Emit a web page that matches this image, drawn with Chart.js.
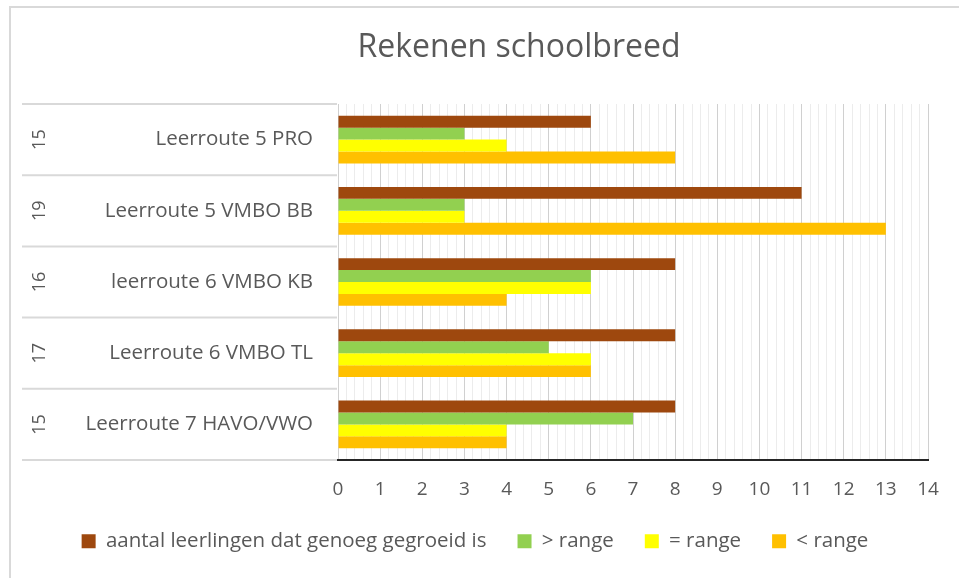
<!DOCTYPE html>
<html lang="nl">
<head>
  <meta charset="UTF-8" />
  <title>Rekenen schoolbreed</title>
  <script src="https://cdn.jsdelivr.net/npm/chart.js"></script>
  <style>
    html, body { margin: 0; padding: 0; background: #fff; }
    #wrap { width: 959px; height: 578px; position: relative; }
  </style>
</head>
<body>
  <div id="wrap"><canvas id="grafiek"></canvas></div>

  <script>
    // data
    const leerroutes = ['Leerroute 5 PRO', 'Leerroute 5 VMBO BB', 'leerroute 6 VMBO KB', 'Leerroute 6 VMBO TL', 'Leerroute 7 HAVO/VWO'];
    const aantalLeerlingen = ['15', '19', '16', '17', '15'];
    const genoegGegroeid = [6, 11, 8, 8, 8];
    const bovenRange = [3, 3, 6, 5, 7];
    const inRange = [4, 3, 6, 6, 4];
    const onderRange = [8, 13, 4, 6, 4];
    const xMax = 14;

    const grijs = '#595959';
    const lijn = '#d9d9d9';
    const fontNaam = '"Open Sans", "Liberation Sans", sans-serif';

    // kader, titel, kolom met aantallen en scheidingslijnen
    const extraTekst = {
      id: 'extraTekst',
      beforeDraw(chart) {
        const ctx = chart.ctx;
        ctx.save();
        ctx.strokeStyle = lijn;
        ctx.lineWidth = 2;
        ctx.strokeRect(10, 7, 980, 600);
        ctx.restore();
      },
      afterDraw(chart) {
        const ctx = chart.ctx;
        const y = chart.scales.y;
        const area = chart.chartArea;
        ctx.save();
        ctx.fillStyle = grijs;
        ctx.font = '32px ' + fontNaam;
        ctx.textAlign = 'center';
        ctx.textBaseline = 'middle';
        ctx.fillText('Rekenen schoolbreed', 519, 48);

        // scheidingslijnen tussen de categorieën
        ctx.strokeStyle = lijn;
        ctx.lineWidth = 2;
        const n = leerroutes.length;
        const grenzen = [y.top];
        for (let i = 0; i < n - 1; i++) {
          grenzen.push((y.getPixelForTick(i) + y.getPixelForTick(i + 1)) / 2);
        }
        grenzen.push(y.bottom);
        grenzen.forEach(g => {
          ctx.beginPath();
          ctx.moveTo(22, g);
          ctx.lineTo(area.left - 1, g);
          ctx.stroke();
        });

        // aantallen gedraaid
        ctx.font = '18px ' + fontNaam;
        aantalLeerlingen.forEach((t, i) => {
          ctx.save();
          ctx.translate(40, y.getPixelForTick(i));
          ctx.rotate(-Math.PI / 2);
          ctx.fillText(t, 0, 0);
          ctx.restore();
        });
        ctx.restore();
      }
    };

    const isHeel = v => Math.abs(v - Math.round(v)) < 1e-6;

    new Chart(document.getElementById('grafiek'), {
      type: 'bar',
      data: {
        labels: leerroutes,
        datasets: [
          { label: 'aantal leerlingen dat genoeg gegroeid is', data: genoegGegroeid, backgroundColor: '#9e480e' },
          { label: '> range', data: bovenRange, backgroundColor: '#92d050' },
          { label: '= range', data: inRange, backgroundColor: '#ffff00' },
          { label: '< range', data: onderRange, backgroundColor: '#ffc000' }
        ]
      },
      options: {
        indexAxis: 'y',
        responsive: true,
        maintainAspectRatio: false,
        animation: false,
        datasets: {
          bar: { categoryPercentage: 0.67, barPercentage: 1.0 }
        },
        layout: { padding: { top: 104, left: 22, right: 31, bottom: 16.5 } },
        scales: {
          x: {
            min: 0,
            max: xMax,
            afterFit(scale) { scale.height = 40; },
            ticks: {
              stepSize: 0.2,
              autoSkip: false,
              maxRotation: 0,
              padding: 18,
              color: grijs,
              font: { family: fontNaam, size: 19 },
              callback: v => isHeel(v) ? String(Math.round(v)) : ''
            },
            grid: {
              drawTicks: false,
              color: c => isHeel(c.tick.value) ? '#d0d0d0' : '#ececec',
              lineWidth: 1
            },
            border: { display: true, color: '#262626', width: 2 }
          },
          y: {
            afterFit(scale) { scale.width = 316; },
            ticks: {
              padding: 25,
              color: grijs,
              font: { family: fontNaam, size: 20.5 }
            },
            grid: { display: false, drawTicks: false },
            border: { display: false }
          }
        },
        plugins: {
          title: { display: false },
          tooltip: { enabled: false },
          legend: {
            position: 'bottom',
            labels: {
              boxWidth: 14,
              boxHeight: 14,
              padding: 31,
              color: grijs,
              font: { family: fontNaam, size: 20.5 }
            }
          }
        }
      },
      plugins: [extraTekst]
    });
  </script>
</body>
</html>
